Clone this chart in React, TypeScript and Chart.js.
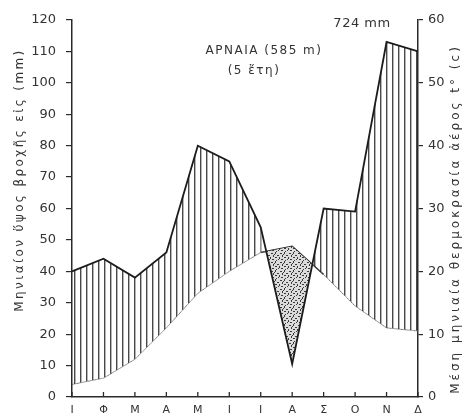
import React, { useEffect, useRef } from 'react';
import { Chart, registerables } from 'chart.js';

Chart.register(...registerables);

const months = ['Ι', 'Φ', 'Μ', 'Α', 'Μ', 'Ι', 'Ι', 'Α', 'Σ', 'Ο', 'Ν', 'Δ'];
const precipitation = [40, 44, 38, 46, 80, 75, 54, 10.5, 60, 59, 113, 110];
const temperature = [2, 3, 6, 11, 16.5, 20, 23, 24, 19.5, 14.5, 11, 10.5];
const precipMax = 120;
const tempMax = 60;
const tickStep = 10;
const stationTitle = 'ΑΡΝΑΙΑ (585 m)';
const periodLabel = '(5 ἔτη)';
const totalLabel = '724 mm';
const leftTitle = 'Μηνιαίον ὕψος βροχῆς εἰς (mm)';
const rightTitle = 'Μέση μηνιαία θερμοκρασία ἀέρος t° (c)';

const INK = '#2a2a2a';
const FONT = 'DejaVu Sans';

function makeHatch(): CanvasPattern | string {
  const c = document.createElement('canvas');
  c.width = 6;
  c.height = 4;
  const g = c.getContext('2d');
  if (!g) return '#999';
  g.fillStyle = 'rgba(40,40,40,0.85)';
  g.fillRect(2, 0, 1, 4);
  g.fillStyle = 'rgba(40,40,40,0.35)';
  g.fillRect(3, 0, 1, 4);
  return g.createPattern(c, 'repeat') || '#999';
}

function makeDots(): CanvasPattern | string {
  const c = document.createElement('canvas');
  c.width = 9;
  c.height = 9;
  const g = c.getContext('2d');
  if (!g) return '#bbb';
  g.fillStyle = '#dcdcdc';
  g.fillRect(0, 0, 9, 9);
  g.fillStyle = 'rgba(30,30,30,0.85)';
  const specks = [
    [1, 1, 2, 1], [5, 0, 1, 2], [7, 3, 2, 1], [3, 3, 1, 2], [0, 5, 1, 2],
    [5, 5, 2, 1], [2, 7, 2, 1], [8, 7, 1, 1], [6, 8, 1, 1], [4, 2, 1, 1],
  ];
  specks.forEach(([x, y, w, h]) => g.fillRect(x, y, w, h));
  return g.createPattern(c, 'repeat') || '#bbb';
}

const range = (max: number) => {
  const out: number[] = [];
  for (let v = 0; v <= max; v += tickStep) out.push(v);
  return out;
};

const isDry = (i: number) => precipitation[i] < temperature[i] * (precipMax / tempMax);

const decorPlugin = {
  id: 'decor',
  afterDraw(chart: any) {
    const { ctx, chartArea, scales } = chart;
    ctx.save();
    ctx.strokeStyle = INK;
    ctx.lineWidth = 1.3;
    const xs = scales.x;
    for (let i = 0; i < months.length; i++) {
      const px = xs.getPixelForTick(i);
      ctx.beginPath();
      ctx.moveTo(px, chartArea.bottom);
      ctx.lineTo(px, chartArea.bottom - 5);
      ctx.stroke();
    }
    ctx.fillStyle = '#333';
    ctx.textAlign = 'center';
    ctx.textBaseline = 'middle';
    (ctx as any).letterSpacing = '1.5px';
    ctx.font = `12px "${FONT}"`;
    ctx.fillText(stationTitle, 264, 51);
    ctx.fillText(periodLabel, 254, 71);
    (ctx as any).letterSpacing = '0.5px';
    ctx.font = `13px "${FONT}"`;
    ctx.fillText(totalLabel, 362, 24);

    ctx.font = `12px "${FONT}"`;
    ctx.save();
    (ctx as any).letterSpacing = '2.4px';
    ctx.translate(20, 180);
    ctx.rotate(-Math.PI / 2);
    ctx.fillText(leftTitle, 0, 0);
    ctx.restore();

    ctx.save();
    (ctx as any).letterSpacing = '3px';
    ctx.translate(456, 219);
    ctx.rotate(-Math.PI / 2);
    ctx.fillText(rightTitle, 0, 0);
    ctx.restore();
    ctx.restore();
  },
};

export default function App() {
  const ref = useRef<HTMLCanvasElement | null>(null);

  useEffect(() => {
    if (!ref.current) return;
    const hatch = makeHatch();
    const dots = makeDots();
    const chart = new Chart(ref.current, {
      type: 'line',
      data: {
        labels: months,
        datasets: [
          {
            label: 'precipitation',
            data: precipitation,
            yAxisID: 'y',
            borderColor: '#1c1c1c',
            borderWidth: 1.8,
            pointRadius: 0,
            tension: 0,
            fill: { target: 1, above: hatch as any, below: dots as any },
          },
          {
            label: 'temperature',
            data: temperature,
            yAxisID: 'y1',
            borderColor: '#777',
            borderWidth: 0.8,
            pointRadius: 0,
            tension: 0,
            fill: false,
            segment: {
              borderColor: (c: any) => (isDry(c.p0DataIndex) || isDry(c.p1DataIndex) ? INK : '#777'),
              borderWidth: (c: any) => (isDry(c.p0DataIndex) || isDry(c.p1DataIndex) ? 1.5 : 0.8),
            },
          },
        ],
      },
      options: {
        animation: false,
        responsive: false,
        devicePixelRatio: 1,
        layout: { padding: { top: 20, left: 0, right: 0, bottom: 0 } },
        plugins: { legend: { display: false }, tooltip: { enabled: false }, title: { display: false } },
        scales: {
          x: {
            type: 'category',
            offset: false,
            grid: { display: false, drawTicks: false },
            border: { display: true, color: INK, width: 1.5 },
            ticks: {
              color: '#333',
              font: { family: FONT, size: 11 },
              padding: 7,
              maxRotation: 0,
              autoSkip: false,
            },
            afterFit: (s: any) => {
              s.height = 22;
            },
          },
          y: {
            position: 'left',
            min: 0,
            max: precipMax,
            afterBuildTicks: (s: any) => {
              s.ticks = range(precipMax).map((v) => ({ value: v }));
            },
            grid: { drawOnChartArea: false, tickLength: 6, color: INK, lineWidth: 1.2 },
            border: { display: true, color: INK, width: 1.5 },
            ticks: { color: '#333', font: { family: FONT, size: 13 }, padding: 10 },
            afterFit: (s: any) => {
              s.width = 72;
            },
          },
          y1: {
            position: 'right',
            min: 0,
            max: tempMax,
            afterBuildTicks: (s: any) => {
              s.ticks = range(tempMax).map((v) => ({ value: v }));
            },
            grid: { drawOnChartArea: false, tickLength: 5, color: INK, lineWidth: 1.2 },
            border: { display: true, color: INK, width: 1.5 },
            ticks: { color: '#333', font: { family: FONT, size: 13 }, padding: 5 },
            afterFit: (s: any) => {
              s.width = 50;
            },
          },
        },
      },
      plugins: [decorPlugin],
    });
    return () => chart.destroy();
  }, []);

  return (
    <div style={{ position: 'fixed', left: 0, top: 0, width: 468, height: 419, background: '#fff' }}>
      <canvas ref={ref} width={468} height={419} />
    </div>
  );
}
